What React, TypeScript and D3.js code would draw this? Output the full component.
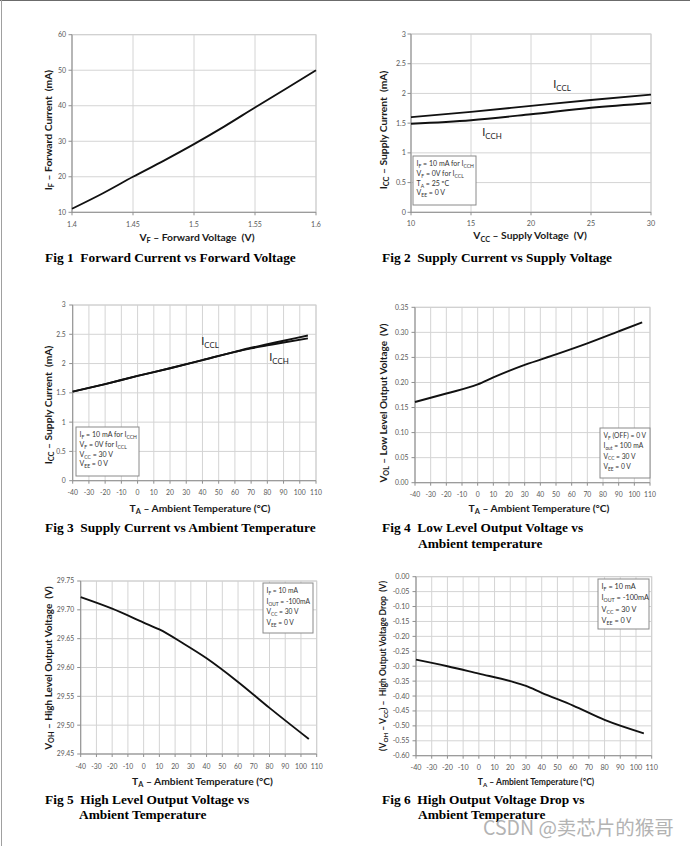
import React from "react";
import * as d3 from "d3";

// ---------- DATA ----------
const fig1XTicks = ["1.4", "1.45", "1.5", "1.55", "1.6"];
const fig1YTicks = ["10", "20", "30", "40", "50", "60"];
const fig1Vf = [1.4, 1.425, 1.45, 1.475, 1.5, 1.525, 1.55, 1.575, 1.6];
const fig1If = [11, 15.3, 20, 24.5, 29.2, 34.2, 39.5, 44.7, 50];

const fig2XTicks = ["10", "15", "20", "25", "30"];
const fig2YTicks = ["0", "0.5", "1", "1.5", "2", "2.5", "3"];
const fig2Vcc = [10, 15, 20, 25, 30];
const fig2Iccl = [1.6, 1.69, 1.79, 1.89, 1.98];
const fig2Icch = [1.49, 1.55, 1.65, 1.76, 1.84];

const tempTicks = ["-40", "-30", "-20", "-10", "0", "10", "20", "30", "40", "50", "60", "70", "80", "90", "100", "110"];

const fig3YTicks = ["0", "0.5", "1", "1.5", "2", "2.5", "3"];
const fig3Temp = [-40, -20, 0, 20, 40, 60, 70, 80, 90, 105];
const fig3Iccl = [1.52, 1.65, 1.79, 1.92, 2.06, 2.2, 2.27, 2.33, 2.39, 2.48];
const fig3Icch = [1.52, 1.65, 1.79, 1.92, 2.06, 2.2, 2.26, 2.31, 2.36, 2.43];

const fig4YTicks = ["0.00", "0.05", "0.10", "0.15", "0.20", "0.25", "0.30", "0.35"];
const fig4Temp = [-40, -20, 0, 10, 20, 30, 50, 70, 90, 105];
const fig4Vol = [0.161, 0.178, 0.196, 0.21, 0.223, 0.235, 0.256, 0.278, 0.302, 0.32];

const fig5YTicks = ["29.45", "29.50", "29.55", "29.60", "29.65", "29.70", "29.75"];
const fig5Temp = [-40, -20, 0, 10, 25, 40, 60, 80, 105];
const fig5Voh = [29.722, 29.702, 29.678, 29.666, 29.642, 29.616, 29.575, 29.53, 29.476];

const fig6YTicks = ["-0.60", "-0.55", "-0.50", "-0.45", "-0.40", "-0.35", "-0.30", "-0.25", "-0.20", "-0.15", "-0.10", "-0.05", "0.00"];
const fig6Temp = [-40, -20, 0, 20, 30, 40, 60, 80, 105];
const fig6Drop = [-0.278, -0.3, -0.325, -0.35, -0.366, -0.389, -0.432, -0.48, -0.525];

// ---------- TEXT ----------
const captions = [
  { text: "Fig 1  Forward Current vs Forward Voltage", x: 45, y: 262 },
  { text: "Fig 2  Supply Current vs Supply Voltage", x: 382, y: 262 },
  { text: "Fig 3  Supply Current vs Ambient Temperature", x: 45, y: 532 },
  { text: "Fig 4  Low Level Output Voltage vs", x: 382, y: 532 },
  { text: "Ambient temperature", x: 418, y: 548 },
  { text: "Fig 5  High Level Output Voltage vs", x: 45, y: 804 },
  { text: "Ambient Temperature", x: 79, y: 819 },
  { text: "Fig 6  High Output Voltage Drop vs", x: 382, y: 804 },
  { text: "Ambient Temperature", x: 418, y: 819 },
];

type Series = { x: number[]; y: number[] };
type Panel = {
  x0: number; x1: number; y0: number; y1: number;
  xDomain: [number, number]; yDomain: [number, number];
  xTicks: string[]; yTicks: string[];
  series: Series[];
  xTitle: string; xTitlePos: [number, number]; xTitleSize: number;
  yTitle: string; yTitlePos: [number, number]; yTitleSize: number;
  tickSize: number; yTickGap: number; xTickY: number;
  legend?: { lines: string[]; x: number; y: number; w: number; h: number; size: number; lh: number };
  labels?: { text: string; x: number; y: number }[];
};

const panels: Panel[] = [
  {
    x0: 72, x1: 316, y0: 34.7, y1: 212.3,
    xDomain: [1.4, 1.6], yDomain: [10, 60],
    xTicks: fig1XTicks, yTicks: fig1YTicks,
    series: [{ x: fig1Vf, y: fig1If }],
    xTitle: "V_{F} – Forward Voltage  (V)", xTitlePos: [197, 240.5], xTitleSize: 10.3,
    yTitle: "I_{F} – Forward Current  (mA)", yTitlePos: [48, 130], yTitleSize: 10.3,
    tickSize: 7, yTickGap: 6, xTickY: 226.5,
  },
  {
    x0: 411, x1: 651, y0: 34, y1: 212.3,
    xDomain: [10, 30], yDomain: [0, 3],
    xTicks: fig2XTicks, yTicks: fig2YTicks,
    series: [{ x: fig2Vcc, y: fig2Iccl }, { x: fig2Vcc, y: fig2Icch }],
    xTitle: "V_{CC} – Supply Voltage  (V)", xTitlePos: [530, 239], xTitleSize: 10.3,
    yTitle: "I_{CC} – Supply Current  (mA)", yTitlePos: [383, 130], yTitleSize: 10.3,
    tickSize: 7.2, yTickGap: 5, xTickY: 226,
    legend: { lines: ["I_{F} = 10 mA for I_{CCH}", "V_{F} = 0V for I_{CCL}", "T_{A} = 25 ºC", "V_{EE} = 0 V"], x: 413, y: 156, w: 63, h: 49, size: 7, lh: 9.8 },
    labels: [{ text: "I_{CCL}", x: 562, y: 88 }, { text: "I_{CCH}", x: 492, y: 136 }],
  },
  {
    x0: 72.7, x1: 316, y0: 305, y1: 480.7,
    xDomain: [-40, 110], yDomain: [0, 3],
    xTicks: tempTicks, yTicks: fig3YTicks,
    series: [{ x: fig3Temp, y: fig3Iccl }, { x: fig3Temp, y: fig3Icch }],
    xTitle: "T_{A} – Ambient Temperature (°C)", xTitlePos: [200, 511.5], xTitleSize: 10.3,
    yTitle: "I_{CC} – Supply Current  (mA)", yTitlePos: [48, 405], yTitleSize: 10.3,
    tickSize: 6.8, yTickGap: 7, xTickY: 495,
    legend: { lines: ["I_{F} = 10 mA for I_{CCH}", "V_{F} = 0V for I_{CCL}", "V_{CC} = 30 V", "V_{EE} = 0 V"], x: 76, y: 427, w: 63, h: 49, size: 7, lh: 9.8 },
    labels: [{ text: "I_{CCL}", x: 210, y: 345 }, { text: "I_{CCH}", x: 279, y: 361 }],
  },
  {
    x0: 415, x1: 650, y0: 307.3, y1: 482.7,
    xDomain: [-40, 110], yDomain: [0, 0.35],
    xTicks: tempTicks, yTicks: fig4YTicks,
    series: [{ x: fig4Temp, y: fig4Vol }],
    xTitle: "T_{A} – Ambient Temperature (°C)", xTitlePos: [539, 511.5], xTitleSize: 10.3,
    yTitle: "V_{OL} – Low Level Output Voltage  (V)", yTitlePos: [383, 403], yTitleSize: 10,
    tickSize: 6.8, yTickGap: 6.5, xTickY: 496.5,
    legend: { lines: ["V_{F} (OFF) = 0 V", "I_{out} = 100 mA", "V_{CC} = 30 V", "V_{EE} = 0 V"], x: 600, y: 428, w: 50, h: 50, size: 6.7, lh: 10.3 },
  },
  {
    x0: 80.7, x1: 316.7, y0: 581, y1: 754,
    xDomain: [-40, 110], yDomain: [29.45, 29.75],
    xTicks: tempTicks, yTicks: fig5YTicks,
    series: [{ x: fig5Temp, y: fig5Voh }],
    xTitle: "T_{A} – Ambient Temperature (°C)", xTitlePos: [202.5, 784.5], xTitleSize: 10.3,
    yTitle: "V_{OH} – High Level Output Voltage  (V)", yTitlePos: [48, 668], yTitleSize: 10,
    tickSize: 6.8, yTickGap: 6.5, xTickY: 768.5,
    legend: { lines: ["I_{F} = 10 mA", "I_{OUT} = -100mA", "V_{CC} = 30 V", "V_{EE} = 0 V"], x: 263, y: 583, w: 50, h: 50, size: 6.7, lh: 10.7 },
  },
  {
    x0: 416, x1: 651.7, y0: 576.7, y1: 755.7,
    xDomain: [-40, 110], yDomain: [-0.6, 0],
    xTicks: tempTicks, yTicks: fig6YTicks,
    series: [{ x: fig6Temp, y: fig6Drop }],
    xTitle: "T_{A} – Ambient Temperature (°C)", xTitlePos: [536, 785], xTitleSize: 8.5,
    yTitle: "(V_{OH} – V_{CC}) –  High Output Voltage Drop  (V)", yTitlePos: [383, 666], yTitleSize: 8.6,
    tickSize: 7.2, yTickGap: 6.5, xTickY: 770,
    legend: { lines: ["I_{F} = 10 mA", "I_{OUT} = -100mA", "V_{CC} = 30 V", "V_{EE} = 0 V"], x: 598, y: 579, w: 51, h: 50, size: 7.3, lh: 11.3 },
  },
];

// ---------- HELPERS ----------
function parse(s: string) {
  const out: { t: string; sub: boolean }[] = [];
  const re = /_\{([^}]*)\}/g;
  let last = 0;
  let m: RegExpExecArray | null;
  while ((m = re.exec(s))) {
    if (m.index > last) out.push({ t: s.slice(last, m.index), sub: false });
    out.push({ t: m[1], sub: true });
    last = re.lastIndex;
  }
  if (last < s.length) out.push({ t: s.slice(last), sub: false });
  return out;
}

function Rich({ text, size }: { text: string; size: number }) {
  const p = parse(text);
  const shift = size * 0.28;
  let down = false;
  return (
    <>
      {p.map((seg, i) => {
        let dy = 0;
        if (seg.sub && !down) { dy = shift; down = true; }
        else if (!seg.sub && down) { dy = -shift; down = false; }
        return (
          <tspan key={i} dy={dy || undefined} fontSize={seg.sub ? size * 0.72 : size}>
            {seg.t}
          </tspan>
        );
      })}
    </>
  );
}

const SANS = "Lato, 'Open Sans', sans-serif";
const SERIF = "'Liberation Serif', 'Times New Roman', serif";

function PanelView({ p }: { p: Panel }) {
  const x = d3.scaleLinear().domain(p.xDomain).range([p.x0, p.x1]);
  const y = d3.scaleLinear().domain(p.yDomain).range([p.y1, p.y0]);
  const line = d3
    .line<[number, number]>()
    .x((d) => x(d[0]))
    .y((d) => y(d[1]))
    .curve(d3.curveMonotoneX);
  const xv = p.xTicks.map((t) => +t);
  const yv = p.yTicks.map((t) => +t);
  return (
    <g>
      {xv.map((v, i) => (
        <line key={"gx" + i} x1={x(v)} x2={x(v)} y1={p.y0} y2={p.y1} stroke="#d4d4d4" strokeWidth={1} />
      ))}
      {yv.map((v, i) => (
        <line key={"gy" + i} x1={p.x0} x2={p.x1} y1={y(v)} y2={y(v)} stroke="#d4d4d4" strokeWidth={1} />
      ))}
      <rect x={p.x0} y={p.y0} width={p.x1 - p.x0} height={p.y1 - p.y0} fill="none" stroke="#cfcfcf" />
      <line x1={p.x0} x2={p.x0} y1={p.y0} y2={p.y1} stroke="#8f8f8f" />
      <line x1={p.x0} x2={p.x1} y1={p.y1} y2={p.y1} stroke="#8f8f8f" />
      {yv.map((v, i) => (
        <line key={"ty" + i} x1={p.x0 - 3.5} x2={p.x0} y1={y(v)} y2={y(v)} stroke="#8f8f8f" />
      ))}
      {xv.map((v, i) => (
        <line key={"tx" + i} x1={x(v)} x2={x(v)} y1={p.y1} y2={p.y1 + 3} stroke="#8f8f8f" />
      ))}
      {p.yTicks.map((t, i) => (
        <text key={"ly" + i} x={p.x0 - p.yTickGap} y={y(yv[i]) + p.tickSize * 0.35} textAnchor="end"
          fontSize={p.tickSize} fill="#595959" fontFamily={SANS}>{t}</text>
      ))}
      {p.xTicks.map((t, i) => (
        <text key={"lx" + i} x={x(xv[i])} y={p.xTickY} textAnchor="middle"
          fontSize={p.tickSize} fill="#595959" fontFamily={SANS}>{t}</text>
      ))}
      {p.legend && (
        <g>
          <rect x={p.legend.x} y={p.legend.y} width={p.legend.w} height={p.legend.h} fill="#fff" stroke="#8a8a8a" strokeWidth={1} />
          {p.legend.lines.map((l, i) => (
            <text key={"lg" + i} x={p.legend!.x + 3.5} y={p.legend!.y + 10 + i * p.legend!.lh}
              fontSize={p.legend!.size} fill="#333" fontFamily={SANS} style={{ whiteSpace: "pre" }}>
              <Rich text={l} size={p.legend!.size} />
            </text>
          ))}
        </g>
      )}
      {p.series.map((s, i) => (
        <path key={"s" + i} d={line(s.x.map((v, j) => [v, s.y[j]] as [number, number])) || ""}
          fill="none" stroke="#111" strokeWidth={1.9} />
      ))}
      {p.labels && p.labels.map((l, i) => (
        <text key={"cl" + i} x={l.x} y={l.y} textAnchor="middle" fontSize={11} fill="#222" fontFamily={SANS}>
          <Rich text={l.text} size={11} />
        </text>
      ))}
      <text x={p.xTitlePos[0]} y={p.xTitlePos[1]} textAnchor="middle" fontSize={p.xTitleSize}
        fontWeight="bold" fill="#1a1a1a" fontFamily={SANS} style={{ whiteSpace: "pre" }}>
        <Rich text={p.xTitle} size={p.xTitleSize} />
      </text>
      <text transform={`translate(${p.yTitlePos[0] + p.yTitleSize * 0.35},${p.yTitlePos[1]}) rotate(-90)`}
        textAnchor="middle" fontSize={p.yTitleSize} fontWeight="bold" fill="#1a1a1a" fontFamily={SANS}
        style={{ whiteSpace: "pre" }}>
        <Rich text={p.yTitle} size={p.yTitleSize} />
      </text>
    </g>
  );
}

export default function App() {
  return (
    <div style={{ position: "absolute", left: 0, top: 0, width: 690, height: 846, background: "#fff" }}>
      <svg width={690} height={846} viewBox="0 0 690 846" style={{ display: "block" }}>
        <rect x={0} y={0} width={690} height={846} fill="#fff" />
        <line x1={0} x2={690} y1={0.5} y2={0.5} stroke="#6b6b6b" />
        <line x1={1.5} x2={1.5} y1={0} y2={846} stroke="#a0a0a0" />
        {panels.map((p, i) => (
          <PanelView key={i} p={p} />
        ))}
        {captions.map((c, i) => (
          <text key={"cap" + i} x={c.x} y={c.y} fontSize={13.4} fontWeight="bold" fill="#000" fontFamily={SERIF}
            style={{ whiteSpace: "pre" }}>{c.text}</text>
        ))}
        <text x={483} y={835} fontSize={19.5} fill="#b3b3b3" fontFamily="'Noto Sans CJK SC', 'Noto Sans', sans-serif">
          CSDN @卖芯片的猴哥
        </text>
      </svg>
    </div>
  );
}
